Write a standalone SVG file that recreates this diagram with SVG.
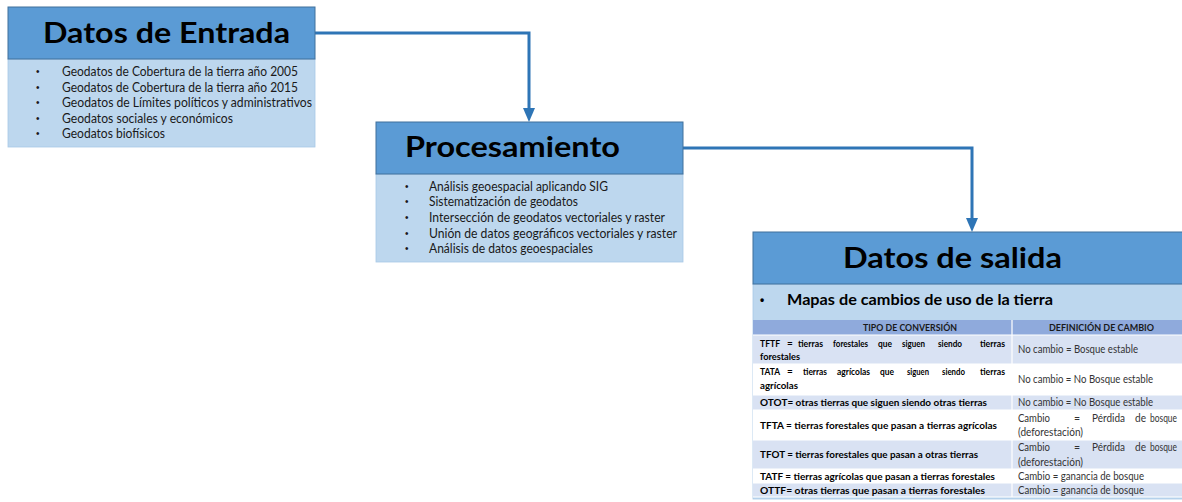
<svg xmlns="http://www.w3.org/2000/svg" width="1182" height="502" viewBox="0 0 1182 502">
<defs>
<style>
.hdr{fill:#5B9BD5;stroke:#41719C;stroke-width:1}
.body{fill:#BDD7EE;stroke:#A9C8E6;stroke-width:0.8}
.title{font-family:Lato,"Open Sans","Liberation Sans",sans-serif;font-weight:bold;font-size:28px;fill:#000}
.item{font-family:Lato,"Open Sans","Liberation Sans",sans-serif;font-size:12.5px;fill:#1a1a1a}
.bul{font-family:"Liberation Sans",sans-serif;font-size:10px;fill:#1a1a1a}
.sub{font-family:Lato,"Open Sans","Liberation Sans",sans-serif;font-weight:bold;font-size:15px;fill:#000}
.subbul{font-family:"Liberation Sans",sans-serif;font-weight:bold;font-size:12px;fill:#000}
.th{font-family:Lato,"Open Sans","Liberation Sans",sans-serif;font-weight:bold;font-size:9.5px;fill:#1a1a1a}
.c1{font-family:Lato,"Open Sans","Liberation Sans",sans-serif;font-weight:bold;font-size:10px;fill:#000}
.c2{font-family:Lato,"Open Sans","Liberation Sans",sans-serif;font-size:10.5px;fill:#333}
.conn{fill:none;stroke:#2E75B6;stroke-width:3}
.rowA{fill:#D9E2F3}
.rowB{fill:#FFFFFF}
.rowH{fill:#8FAADC}
.grid{stroke:#FFFFFF;stroke-width:1.2}
</style>
<marker id="arr" viewBox="0 0 14 12" refX="0" refY="6" markerWidth="14" markerHeight="12" markerUnits="userSpaceOnUse" orient="auto">
<path d="M0,0 L14,6 L0,12 z" fill="#2E75B6"/>
</marker>
</defs>

<g id="connectors">
<path class="conn" d="M315,33 H529 V108" marker-end="url(#arr)"/>
<path class="conn" d="M683,148 H972 V218" marker-end="url(#arr)"/>
</g>

<g id="datos-entrada">
<rect class="body" x="8" y="59" width="307" height="88"/>
<rect class="hdr" x="8" y="7" width="307" height="52"/>
<text class="title" x="43" y="43" textLength="247" lengthAdjust="spacingAndGlyphs">Datos de Entrada</text>
<g class="bul">
<text x="36" y="75">•</text>
<text x="36" y="90.5">•</text>
<text x="36" y="106">•</text>
<text x="36" y="121.5">•</text>
<text x="36" y="137">•</text>
</g>
<g class="item">
<text x="62" y="76" textLength="236" lengthAdjust="spacingAndGlyphs">Geodatos de Cobertura de la tierra año 2005</text>
<text x="62" y="91.5" textLength="236" lengthAdjust="spacingAndGlyphs">Geodatos de Cobertura de la tierra año 2015</text>
<text x="62" y="107" textLength="250" lengthAdjust="spacingAndGlyphs">Geodatos de Límites políticos y administrativos</text>
<text x="62" y="122.5" textLength="171" lengthAdjust="spacingAndGlyphs">Geodatos sociales y económicos</text>
<text x="62" y="138" textLength="103" lengthAdjust="spacingAndGlyphs">Geodatos biofísicos</text>
</g>
</g>

<g id="procesamiento">
<rect class="body" x="376" y="174" width="307" height="88"/>
<rect class="hdr" x="376" y="122" width="307" height="52"/>
<text class="title" x="405" y="157" textLength="215" lengthAdjust="spacingAndGlyphs">Procesamiento</text>
<g class="bul">
<text x="405" y="189.5">•</text>
<text x="405" y="205">•</text>
<text x="405" y="220.5">•</text>
<text x="405" y="236.5">•</text>
<text x="405" y="252">•</text>
</g>
<g class="item">
<text x="429" y="190.5" textLength="179" lengthAdjust="spacingAndGlyphs">Análisis geoespacial aplicando SIG</text>
<text x="429" y="206" textLength="149" lengthAdjust="spacingAndGlyphs">Sistematización de geodatos</text>
<text x="429" y="221.5" textLength="236" lengthAdjust="spacingAndGlyphs">Intersección de geodatos vectoriales y raster</text>
<text x="429" y="237.5" textLength="248" lengthAdjust="spacingAndGlyphs">Unión de datos geográficos vectoriales y raster</text>
<text x="429" y="253" textLength="164" lengthAdjust="spacingAndGlyphs">Análisis de datos geoespaciales</text>
</g>
</g>

<g id="datos-salida">
<rect class="body" x="753" y="284" width="440" height="215"/>
<rect class="hdr" x="753" y="232" width="440" height="52"/>
<text class="title" x="843" y="268" textLength="219" lengthAdjust="spacingAndGlyphs">Datos de salida</text>
<text class="subbul" x="760" y="304">•</text>
<text class="sub" x="787" y="305" textLength="266" lengthAdjust="spacingAndGlyphs">Mapas de cambios de uso de la tierra</text>

<g id="tabla">
<rect class="rowH" x="753" y="320" width="440" height="15"/>
<rect class="rowA" x="753" y="335" width="440" height="29"/>
<rect class="rowB" x="753" y="364" width="440" height="31"/>
<rect class="rowA" x="753" y="395" width="440" height="15"/>
<rect class="rowB" x="753" y="410" width="440" height="30"/>
<rect class="rowA" x="753" y="440" width="440" height="29"/>
<rect class="rowB" x="753" y="469" width="440" height="14"/>
<rect class="rowA" x="753" y="483" width="440" height="14"/>
<g class="grid">
<line x1="753" y1="335" x2="1193" y2="335"/>
<line x1="753" y1="364" x2="1193" y2="364"/>
<line x1="753" y1="395" x2="1193" y2="395"/>
<line x1="753" y1="410" x2="1193" y2="410"/>
<line x1="753" y1="440" x2="1193" y2="440"/>
<line x1="753" y1="469" x2="1193" y2="469"/>
<line x1="753" y1="483" x2="1193" y2="483"/>
<line x1="753" y1="497" x2="1193" y2="497"/>
<line x1="1012" y1="320" x2="1012" y2="497"/>
</g>

<text class="th" x="863" y="331" textLength="94" lengthAdjust="spacingAndGlyphs">TIPO DE CONVERSIÓN</text>
<text class="th" x="1049" y="331" textLength="105" lengthAdjust="spacingAndGlyphs">DEFINICIÓN DE CAMBIO</text>

<g class="c1">
<text x="760" y="347" textLength="20" lengthAdjust="spacingAndGlyphs">TFTF</text>
<text x="787" y="347">=</text>
<text x="798" y="347" textLength="25" lengthAdjust="spacingAndGlyphs">tierras</text>
<text x="833" y="347" textLength="35" lengthAdjust="spacingAndGlyphs">forestales</text>
<text x="878" y="347" textLength="14" lengthAdjust="spacingAndGlyphs">que</text>
<text x="902" y="347" textLength="23" lengthAdjust="spacingAndGlyphs">siguen</text>
<text x="938" y="347" textLength="24" lengthAdjust="spacingAndGlyphs">siendo</text>
<text x="980" y="347" textLength="25" lengthAdjust="spacingAndGlyphs">tierras</text>
<text x="760" y="360" textLength="40" lengthAdjust="spacingAndGlyphs">forestales</text>

<text x="760" y="375" textLength="20" lengthAdjust="spacingAndGlyphs">TATA</text>
<text x="787" y="375">=</text>
<text x="803" y="375" textLength="24" lengthAdjust="spacingAndGlyphs">tierras</text>
<text x="837" y="375" textLength="33" lengthAdjust="spacingAndGlyphs">agrícolas</text>
<text x="880" y="375" textLength="14" lengthAdjust="spacingAndGlyphs">que</text>
<text x="907" y="375" textLength="22" lengthAdjust="spacingAndGlyphs">siguen</text>
<text x="942" y="375" textLength="23" lengthAdjust="spacingAndGlyphs">siendo</text>
<text x="980" y="375" textLength="25" lengthAdjust="spacingAndGlyphs">tierras</text>
<text x="760" y="389" textLength="38" lengthAdjust="spacingAndGlyphs">agrícolas</text>

<text x="760" y="406" textLength="227" lengthAdjust="spacingAndGlyphs">OTOT= otras tierras que siguen siendo otras tierras</text>
<text x="760" y="429" textLength="237" lengthAdjust="spacingAndGlyphs">TFTA = tierras forestales que pasan a tierras agrícolas</text>
<text x="760" y="458" textLength="218" lengthAdjust="spacingAndGlyphs">TFOT = tierras forestales que pasan a otras tierras</text>
<text x="760" y="480" textLength="235" lengthAdjust="spacingAndGlyphs">TATF = tierras agrícolas que pasan a tierras forestales</text>
<text x="760" y="494" textLength="225" lengthAdjust="spacingAndGlyphs">OTTF= otras tierras que pasan a tierras forestales</text>
</g>

<g class="c2">
<text x="1018" y="353" textLength="120" lengthAdjust="spacingAndGlyphs">No cambio = Bosque estable</text>
<text x="1018" y="383" textLength="135" lengthAdjust="spacingAndGlyphs">No cambio = No Bosque estable</text>
<text x="1018" y="406" textLength="135" lengthAdjust="spacingAndGlyphs">No cambio = No Bosque estable</text>

<text x="1018" y="422" textLength="32" lengthAdjust="spacingAndGlyphs">Cambio</text>
<text x="1074" y="422">=</text>
<text x="1092" y="422" textLength="33" lengthAdjust="spacingAndGlyphs">Pérdida</text>
<text x="1135" y="422" textLength="11" lengthAdjust="spacingAndGlyphs">de</text>
<text x="1150" y="422" textLength="27" lengthAdjust="spacingAndGlyphs">bosque</text>
<text x="1018" y="436" textLength="65" lengthAdjust="spacingAndGlyphs">(deforestación)</text>

<text x="1018" y="451" textLength="32" lengthAdjust="spacingAndGlyphs">Cambio</text>
<text x="1074" y="451">=</text>
<text x="1092" y="451" textLength="33" lengthAdjust="spacingAndGlyphs">Pérdida</text>
<text x="1135" y="451" textLength="11" lengthAdjust="spacingAndGlyphs">de</text>
<text x="1150" y="451" textLength="27" lengthAdjust="spacingAndGlyphs">bosque</text>
<text x="1018" y="466" textLength="65" lengthAdjust="spacingAndGlyphs">(deforestación)</text>

<text x="1018" y="480" textLength="126" lengthAdjust="spacingAndGlyphs">Cambio = ganancia de bosque</text>
<text x="1018" y="494" textLength="126" lengthAdjust="spacingAndGlyphs">Cambio = ganancia de bosque</text>
</g>
</g>
</g>
</svg>
